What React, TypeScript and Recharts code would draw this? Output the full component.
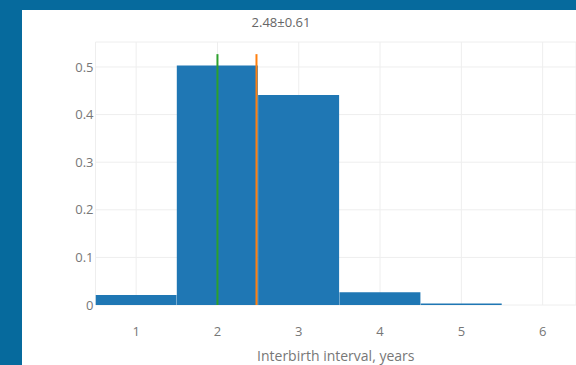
import React from 'react';
import { ComposedChart, Bar, XAxis, YAxis, CartesianGrid, ReferenceLine } from 'recharts';

const binCenters = [1, 2, 3, 4, 5];
const binValues = [0.021, 0.503, 0.441, 0.027, 0.003];
const xTicks = [1, 2, 3, 4, 5, 6];
const yTicks = [0, 0.1, 0.2, 0.3, 0.4, 0.5];
const medianValue = 2;
const meanValue = 2.48;
const markerTop = 0.527;
const titleText = '2.48±0.61';
const xLabel = 'Interbirth interval, years';

const data = binCenters.map((x, i) => ({ x, p: binValues[i] }));

const FONT = '"Open Sans", sans-serif';

export default function App() {
  return (
    <div
      style={{
        position: 'fixed',
        left: 0,
        top: 0,
        width: 576,
        height: 365,
        overflow: 'hidden',
        background: '#066a9d',
        fontFamily: FONT,
      }}
    >
      <div
        style={{
          position: 'absolute',
          left: 22,
          top: 10,
          width: 554,
          height: 355,
          background: '#ffffff',
        }}
      >
        <div
          style={{
            position: 'absolute',
            left: 0,
            top: 3,
            width: 518,
            textAlign: 'center',
            fontSize: 13,
            color: '#666',
            fontFamily: FONT,
          }}
        >
          {titleText}
        </div>
        <ComposedChart
          width={554}
          height={355}
          data={data}
          margin={{ top: 32, right: 0, bottom: 0, left: 0 }}
          barCategoryGap={0}
          barGap={0}
          style={{ fontFamily: FONT }}
        >
          <CartesianGrid stroke="#eeeeee" strokeWidth={1} />
          <XAxis
            dataKey="x"
            type="number"
            domain={[0.5, 6.41]}
            ticks={xTicks}
            axisLine={false}
            tickLine={false}
            tickSize={0}
            tickMargin={22}
            height={60}
            allowDataOverflow
            tick={{ fontSize: 13, fill: '#777', fontFamily: FONT }}
            label={{ value: xLabel, position: 'insideBottom', offset: 4, fontSize: 14, fill: '#777', fontFamily: FONT }}
          />
          <YAxis
            type="number"
            domain={[0, 0.5525]}
            ticks={yTicks}
            axisLine={false}
            tickLine={false}
            tickSize={0}
            tickMargin={2}
            width={73.5}
            allowDataOverflow
            tick={{ fontSize: 13, fill: '#777', fontFamily: FONT }}
          />
          <Bar dataKey="p" fill="#1f77b4" isAnimationActive={false} />
          <ReferenceLine
            segment={[{ x: medianValue, y: 0 }, { x: medianValue, y: markerTop }]}
            stroke="#2ca02c"
            strokeWidth={2}
          />
          <ReferenceLine
            segment={[{ x: meanValue, y: 0 }, { x: meanValue, y: markerTop }]}
            stroke="#ff7f0e"
            strokeWidth={2}
          />
        </ComposedChart>
      </div>
    </div>
  );
}
